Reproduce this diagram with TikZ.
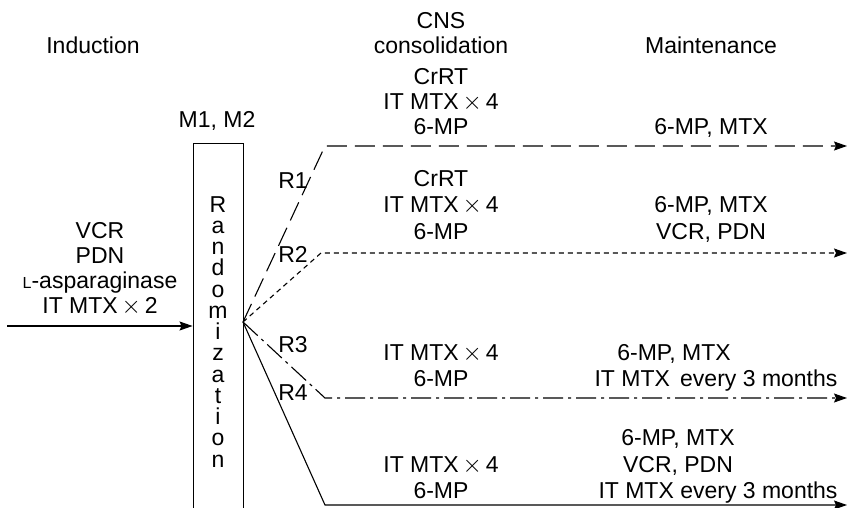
\documentclass[tikz,border=0pt]{standalone}
\usepackage{fontspec}
\setmainfont{Liberation Sans}
\usetikzlibrary{arrows.meta}
\begin{document}
\begin{tikzpicture}[x=1pt,y=-1pt,line width=1.1pt,
  lbl/.style={anchor=base,inner sep=0pt,font=\fontsize{23}{26}\selectfont},
  tip/.style={-{Stealth[length=13pt,width=9pt,inset=2pt]}},
  armA/.style={dash pattern=on 20pt off 8pt},
  armB/.style={dash pattern=on 5pt off 4pt},
  armC/.style={dash pattern=on 20pt off 5pt on 3pt off 5pt},
  armD/.style={}]
\useasboundingbox (0,0) rectangle (847,507);
\clip (0,0) rectangle (847,507);
% headers
\node[lbl] (hind) at (93,53) {Induction};
\node[lbl] (hcns) at (441,28) {CNS};
\node[lbl] (hcons) at (441,53) {consolidation};
\node[lbl] (hmain) at (711,53) {Maintenance};
% induction block
\node[lbl] (i1) at (100,238) {VCR};
\node[lbl] (i2) at (100,263) {PDN};
\node[lbl] (i3) at (100,288) {{\fontsize{16}{16}\selectfont L}-asparaginase};
\node[lbl] (i4) at (100,313) {IT MTX\,$\times$\,2};
% box
\node[draw,line width=0.9pt,minimum width=50pt,minimum height=420pt,anchor=north,inner sep=0pt] (box) at (218,143) {};
\node[lbl] (mm) at (217,127) {M1, M2};
\foreach \l [count=\i from 0] in {R,a,n,d,o,m,i,z,a,t,i,o,n}
  \node[lbl] (rl\i) at (218,212+21.25*\i) {\l};
% input arrow
\coordinate (inA) at (7,326);
\draw[tip] (inA) -- (inA -| box.west);
% fan
\coordinate (fan) at (243,322);
\coordinate (c1) at (325,146); \coordinate (e1) at (847,146);
\coordinate (c2) at (321,253); \coordinate (e2) at (847,253);
\coordinate (c3) at (325,398); \coordinate (e3) at (847,398);
\coordinate (c4) at (325,505); \coordinate (e4) at (847,505);
\draw[armA,tip] (fan) -- (c1) -- (e1);
\draw[armB,tip] (fan) -- (c2) -- (e2);
\draw[armC,tip] (fan) -- (c3) -- (e3);
\draw[armD,tip] (fan) -- (c4) -- (e4);
% R labels
\node[lbl] (r1) at (293,188) {R1};
\node[lbl] (r2) at (293,262) {R2};
\node[lbl] (r3) at (293,352) {R3};
\node[lbl] (r4) at (293,400) {R4};
% CNS column
\node[lbl] (a1) at (441,84) {CrRT};
\node[lbl] (a2) at (441,109) {IT MTX\,$\times$\,4};
\node[lbl] (a3) at (441,134) {6-MP};
\node[lbl] (b1) at (441,186) {CrRT};
\node[lbl] (b2) at (441,212) {IT MTX\,$\times$\,4};
\node[lbl] (b3) at (441,239) {6-MP};
\node[lbl] (c3a) at (441,360) {IT MTX\,$\times$\,4};
\node[lbl] (c3b) at (441,386) {6-MP};
\node[lbl] (d1) at (441,472) {IT MTX\,$\times$\,4};
\node[lbl] (d2) at (441,498) {6-MP};
% maintenance column
\node[lbl] (ma1) at (711,134) {6-MP, MTX};
\node[lbl] (mb1) at (711,212) {6-MP, MTX};
\node[lbl] (mb2) at (711,239) {VCR, PDN};
\node[lbl] (mc1) at (674,360) {6-MP, MTX};
\node[lbl] (mc2) at (716,386) {IT MTX\ \,every 3 months};
\node[lbl] (md1) at (678,445) {6-MP, MTX};
\node[lbl] (md2) at (678,472) {VCR, PDN};
\node[lbl] (md3) at (718,498) {IT MTX every 3 months};
\end{tikzpicture}
\end{document}
